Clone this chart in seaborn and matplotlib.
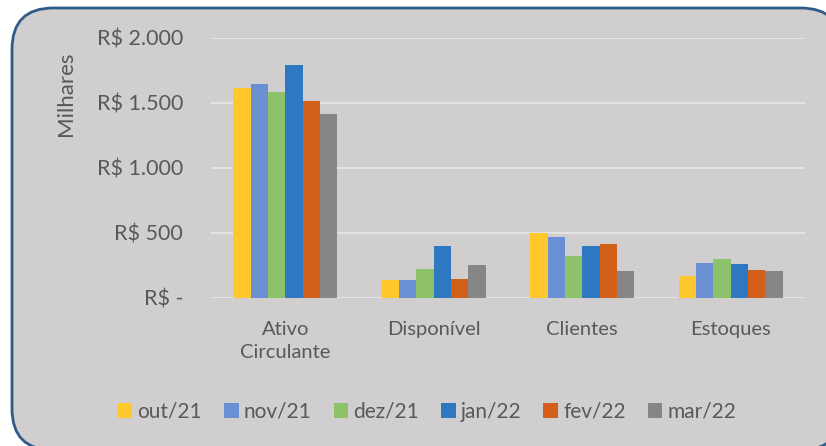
import pandas as pd
import matplotlib
matplotlib.use("Agg")
import matplotlib.pyplot as plt
from matplotlib.patches import FancyBboxPatch
import seaborn as sns

# Data (thousands of R$)
categories = ["Ativo\nCirculante", "Disponível", "Clientes", "Estoques"]
months = ["out/21", "nov/21", "dez/21", "jan/22", "fev/22", "mar/22"]
out21 = [1612, 133, 497, 166]
nov21 = [1643, 133, 462, 262]
dez21 = [1582, 220, 323, 300]
jan22 = [1789, 400, 400, 254]
fev22 = [1512, 143, 410, 212]
mar22 = [1408, 251, 202, 202]
yticks = [0, 500, 1000, 1500, 2000]
ytick_labels = ["R$ -", "R$ 500", "R$ 1.000", "R$ 1.500", "R$ 2.000"]

colors = ["#FFC92E", "#6A8FD2", "#8DC16A", "#2E78C2", "#D2601A", "#868686"]

series = [out21, nov21, dez21, jan22, fev22, mar22]
rows = []
for m, vals in zip(months, series):
    for c, v in zip(categories, vals):
        rows.append({"Categoria": c, "Mês": m, "Valor": v})
df = pd.DataFrame(rows)

sns.set_style("white")
plt.rcParams["font.family"] = ["Lato", "DejaVu Sans"]
text_col = "#595959"
bg = "#D0CECE"

W, H = 826, 446
fig = plt.figure(figsize=(W / 100, H / 100), dpi=100)
fig.patch.set_facecolor("white")

# rounded chart frame
frame = FancyBboxPatch((12 / W, -4 / H), 830 / W, 442 / H,
                       boxstyle="round,pad=0,rounding_size=0.05",
                       transform=fig.transFigure, facecolor=bg,
                       edgecolor="#2E5B88", linewidth=2, zorder=-5,
                       mutation_aspect=W / H)
fig.patches.append(frame)

ax = fig.add_axes([211 / W, 1 - 297.5 / H, (805 - 211) / W, (297.5 - 37.5) / H])
ax.set_facecolor("none")
ax.set_zorder(1)

sns.barplot(data=df, x="Categoria", y="Valor", hue="Mês", palette=colors,
            width=0.7, gap=0, ax=ax, legend=True, saturation=1,
            edgecolor="none")

ax.set_ylim(0, 2000)
ax.set_yticks(yticks)
ax.set_yticklabels(ytick_labels)
ax.grid(axis="y", color="#E3E3E3", linewidth=1.5)
ax.set_axisbelow(True)
for s in ax.spines.values():
    s.set_visible(False)
ax.tick_params(axis="y", length=0, pad=20, labelsize=15.5, labelcolor=text_col)
ax.tick_params(axis="x", length=0, pad=17, labelsize=14.5, labelcolor=text_col)
for lbl in ax.get_xticklabels():
    lbl.set_linespacing(1.45)
ax.set_xlabel("")
ax.set_ylabel("")

fig.text(66 / W, 1 - 94 / H, "Milhares", rotation=90, ha="center", va="center",
         fontsize=16, color=text_col)

handles, labels = ax.get_legend_handles_labels()
ax.get_legend().remove()
fig.legend(handles, labels, loc="center", bbox_to_anchor=(427 / W, 1 - 412 / H),
           ncol=6, frameon=False, fontsize=15, labelcolor=text_col,
           handlelength=0.7, handleheight=0.7, handletextpad=0.25,
           columnspacing=1.05)

fig.savefig("out.png", dpi=100)
